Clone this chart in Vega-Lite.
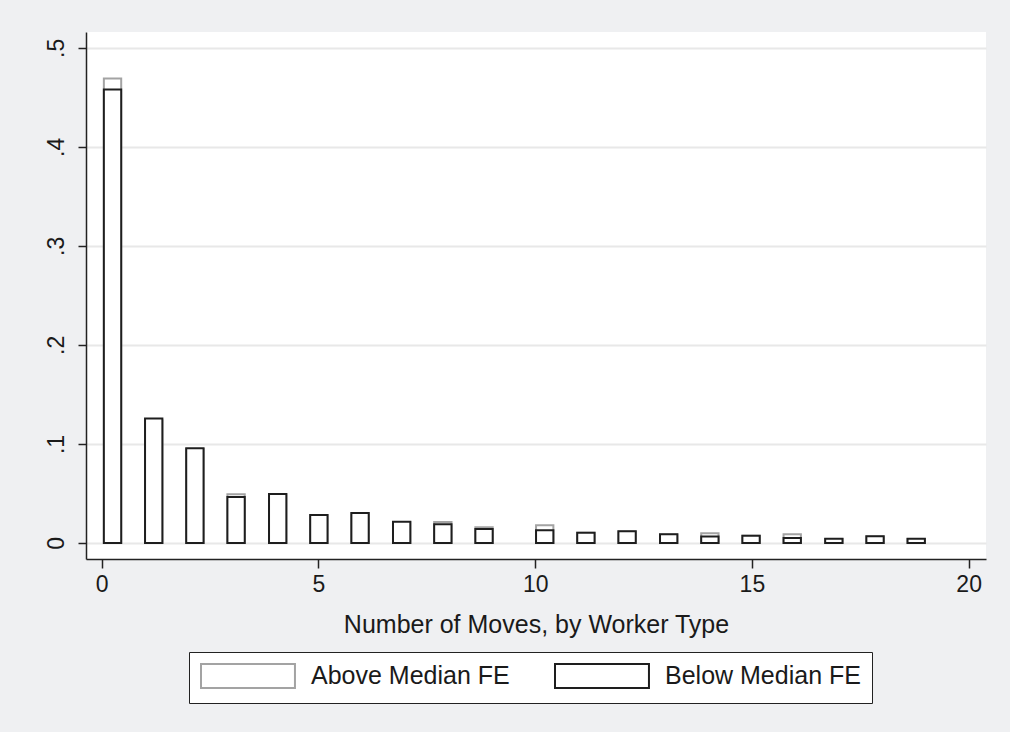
{
  "$schema": "https://vega.github.io/schema/vega-lite/v6.json",
  "width": 900,
  "height": 527,
  "autosize": {"type": "none"},
  "padding": {"left": 86, "top": 32, "right": 24, "bottom": 173},
  "background": "#eff0f2",
  "view": {"fill": "#ffffff", "stroke": null},
  "data": {
    "values": [
      {"x0": 0.05, "x1": 0.45, "type": "Above Median FE", "density": 0.469},
      {"x0": 1.00, "x1": 1.40, "type": "Above Median FE", "density": 0.124},
      {"x0": 1.95, "x1": 2.35, "type": "Above Median FE", "density": 0.095},
      {"x0": 2.90, "x1": 3.30, "type": "Above Median FE", "density": 0.0492},
      {"x0": 3.86, "x1": 4.26, "type": "Above Median FE", "density": 0.049},
      {"x0": 4.81, "x1": 5.21, "type": "Above Median FE", "density": 0.028},
      {"x0": 5.76, "x1": 6.16, "type": "Above Median FE", "density": 0.030},
      {"x0": 6.72, "x1": 7.12, "type": "Above Median FE", "density": 0.021},
      {"x0": 7.67, "x1": 8.07, "type": "Above Median FE", "density": 0.0212},
      {"x0": 8.62, "x1": 9.02, "type": "Above Median FE", "density": 0.0159},
      {"x0": 10.02, "x1": 10.42, "type": "Above Median FE", "density": 0.0179},
      {"x0": 10.97, "x1": 11.37, "type": "Above Median FE", "density": 0.0102},
      {"x0": 11.92, "x1": 12.32, "type": "Above Median FE", "density": 0.0116},
      {"x0": 12.88, "x1": 13.28, "type": "Above Median FE", "density": 0.0086},
      {"x0": 13.83, "x1": 14.23, "type": "Above Median FE", "density": 0.0098},
      {"x0": 14.78, "x1": 15.18, "type": "Above Median FE", "density": 0.0072},
      {"x0": 15.73, "x1": 16.13, "type": "Above Median FE", "density": 0.0088},
      {"x0": 16.69, "x1": 17.09, "type": "Above Median FE", "density": 0.0041},
      {"x0": 17.64, "x1": 18.04, "type": "Above Median FE", "density": 0.0066},
      {"x0": 18.59, "x1": 18.99, "type": "Above Median FE", "density": 0.0041},
      {"x0": 0.05, "x1": 0.45, "type": "Below Median FE", "density": 0.458},
      {"x0": 1.00, "x1": 1.40, "type": "Below Median FE", "density": 0.1256},
      {"x0": 1.95, "x1": 2.35, "type": "Below Median FE", "density": 0.0957},
      {"x0": 2.90, "x1": 3.30, "type": "Below Median FE", "density": 0.0465},
      {"x0": 3.86, "x1": 4.26, "type": "Below Median FE", "density": 0.0495},
      {"x0": 4.81, "x1": 5.21, "type": "Below Median FE", "density": 0.0283},
      {"x0": 5.76, "x1": 6.16, "type": "Below Median FE", "density": 0.0303},
      {"x0": 6.72, "x1": 7.12, "type": "Below Median FE", "density": 0.0215},
      {"x0": 7.67, "x1": 8.07, "type": "Below Median FE", "density": 0.0189},
      {"x0": 8.62, "x1": 9.02, "type": "Below Median FE", "density": 0.0141},
      {"x0": 10.02, "x1": 10.42, "type": "Below Median FE", "density": 0.0128},
      {"x0": 10.97, "x1": 11.37, "type": "Below Median FE", "density": 0.0104},
      {"x0": 11.92, "x1": 12.32, "type": "Below Median FE", "density": 0.0118},
      {"x0": 12.88, "x1": 13.28, "type": "Below Median FE", "density": 0.0088},
      {"x0": 13.83, "x1": 14.23, "type": "Below Median FE", "density": 0.0064},
      {"x0": 14.78, "x1": 15.18, "type": "Below Median FE", "density": 0.0074},
      {"x0": 15.73, "x1": 16.13, "type": "Below Median FE", "density": 0.005},
      {"x0": 16.69, "x1": 17.09, "type": "Below Median FE", "density": 0.0043},
      {"x0": 17.64, "x1": 18.04, "type": "Below Median FE", "density": 0.0068},
      {"x0": 18.59, "x1": 18.99, "type": "Below Median FE", "density": 0.0043}
    ]
  },
  "mark": {"type": "bar", "fill": "#ffffff", "strokeWidth": 2, "cornerRadius": 0},
  "encoding": {
    "x": {
      "field": "x0", "type": "quantitative",
      "scale": {"domain": [-0.362, 20.4], "nice": false, "zero": false},
      "axis": {
        "values": [0, 5, 10, 15, 20],
        "title": "Number of Moves, by Worker Type",
        "grid": false,
        "domainColor": "#222222", "domainWidth": 1.5,
        "tickColor": "#222222", "tickWidth": 1.5, "tickSize": 9,
        "labelFont": "Liberation Sans", "labelFontSize": 23, "labelColor": "#1a1a1a", "labelPadding": 5,
        "titleFont": "Liberation Sans", "titleFontSize": 25, "titleFontWeight": "normal", "titleColor": "#1a1a1a", "titlePadding": 16
      }
    },
    "x2": {"field": "x1"},
    "y": {
      "field": "density", "type": "quantitative", "stack": null,
      "scale": {"domain": [-0.0162, 0.516], "nice": false, "zero": false},
      "axis": {
        "values": [0, 0.1, 0.2, 0.3, 0.4, 0.5],
        "labelExpr": "datum.value == 0 ? '0' : replace(format(datum.value, '.1f'), '0.', '.')",
        "title": null,
        "grid": true, "gridColor": "#e8e8e8", "gridWidth": 2,
        "domainColor": "#222222", "domainWidth": 1.5,
        "tickColor": "#222222", "tickWidth": 1.5, "tickSize": 8,
        "labelAngle": -90, "labelAlign": "center", "labelBaseline": "bottom",
        "labelFont": "Liberation Sans", "labelFontSize": 23, "labelColor": "#1a1a1a", "labelPadding": 10
      }
    },
    "y2": {"datum": 0},
    "stroke": {
      "field": "type", "type": "nominal",
      "scale": {"domain": ["Above Median FE", "Below Median FE"], "range": ["#a3a3a3", "#1e1e1e"]},
      "legend": {
        "orient": "none", "legendX": 103, "legendY": 620,
        "direction": "horizontal",
        "title": null,
        "fillColor": "#ffffff", "strokeColor": "#222222",
        "padding": 11,
        "symbolType": "M-1,-1H6.83V1H-1Z",
        "symbolSize": 576,
        "symbolFillColor": "#ffffff", "symbolStrokeWidth": 2,
        "labelFont": "Liberation Sans", "labelFontSize": 25, "labelColor": "#1a1a1a",
        "labelOffset": 85, "columnPadding": 41, "labelLimit": 400
      }
    }
  }
}
